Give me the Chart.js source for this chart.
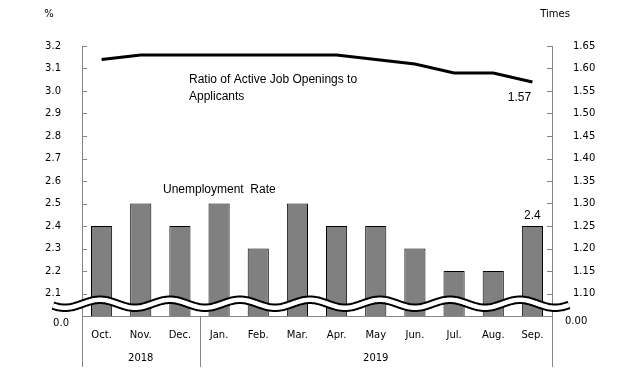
<!DOCTYPE html>
<html>
<head>
<meta charset="utf-8">
<script src="https://cdn.jsdelivr.net/npm/chart.js@4"></script>
<style>
html,body{margin:0;padding:0;background:#fff;}
canvas{display:block;}
</style>
</head>
<body>
<canvas id="c" width="629" height="377"></canvas>
<script>
const categories = ['Oct.','Nov.','Dec.','Jan.','Feb.','Mar.','Apr.','May','Jun.','Jul.','Aug.','Sep.'];
const years = [{label:'2018', from:0, to:2}, {label:'2019', from:3, to:11}];
const unemploymentRate = [2.4, 2.5, 2.4, 2.5, 2.3, 2.5, 2.4, 2.4, 2.3, 2.2, 2.2, 2.4];
const jobRatio = [1.62, 1.63, 1.63, 1.63, 1.63, 1.63, 1.63, 1.62, 1.61, 1.59, 1.59, 1.57];

const AXIS = '#868686';
const TICK_FONT = '10px "DejaVu Sans"';
const NOTE_FONT = '12px "Liberation Sans"';

const decor = {
  id: 'decor',
  afterDatasetsDraw(chart) {
    const ctx = chart.ctx;
    const ca = chart.chartArea;
    const yL = chart.scales.y, yR = chart.scales.y1, x = chart.scales.x;
    ctx.save();
    // inward tick marks
    ctx.strokeStyle = AXIS; ctx.lineWidth = 1;
    yL.ticks.forEach(t => {
      if (t.value < 2.05) return;
      const py = Math.round(yL.getPixelForValue(t.value)) + 0.5;
      ctx.beginPath(); ctx.moveTo(ca.left, py); ctx.lineTo(ca.left + 5, py); ctx.stroke();
    });
    yR.ticks.forEach(t => {
      if (t.value < 1.07) return;
      const py = Math.round(yR.getPixelForValue(t.value)) + 0.5;
      ctx.beginPath(); ctx.moveTo(ca.right, py); ctx.lineTo(ca.right - 5, py); ctx.stroke();
    });
    // vertical separators below x axis
    const step = (ca.right - ca.left) / categories.length;
    const seps = [ca.left, ca.left + step * 3, ca.right];
    seps.forEach(sx => {
      const px = Math.round(sx) + 0.5;
      ctx.beginPath(); ctx.moveTo(px, ca.bottom); ctx.lineTo(px, ca.bottom + 51); ctx.stroke();
    });
    // wave break
    const cy = (yL.getPixelForValue(2.1) + yL.getPixelForValue(2.0)) / 2 - 1;
    const wave = () => {
      ctx.beginPath();
      for (let px = 53; px <= 569; px += 1) {
        const py = cy - 4 * Math.cos(2 * Math.PI * (px - 100) / 70);
        if (px === 53) ctx.moveTo(px, py); else ctx.lineTo(px, py);
      }
    };
    ctx.lineCap = 'butt';
    wave(); ctx.strokeStyle = '#000'; ctx.lineWidth = 8.5; ctx.stroke();
    wave(); ctx.strokeStyle = '#fff'; ctx.lineWidth = 4.5; ctx.stroke();
    // texts
    ctx.fillStyle = '#000';
    ctx.font = TICK_FONT;
    ctx.textBaseline = 'middle';
    ctx.textAlign = 'right'; ctx.fillText('0.0', ca.left - 13, ca.bottom + 7);
    ctx.textAlign = 'left'; ctx.fillText('0.00', ca.right + 13, ca.bottom + 5);
    ctx.textAlign = 'center';
    ctx.fillText('%', 49, 14);
    ctx.fillText('Times', 555, 14);
    years.forEach(yv => {
      const cx = (x.getPixelForValue(yv.from) + x.getPixelForValue(yv.to)) / 2;
      ctx.fillText(yv.label, cx, ca.bottom + 42);
    });
    ctx.font = NOTE_FONT;
    ctx.textAlign = 'left';
    ctx.fillText('Ratio of Active Job Openings to', 189, 80);
    ctx.fillText('Applicants', 189, 97);
    ctx.fillText('Unemployment  Rate', 163, 190);
    ctx.textAlign = 'center';
    const last = categories.length - 1;
    ctx.fillText(String(unemploymentRate[last]), x.getPixelForValue(last), yL.getPixelForValue(unemploymentRate[last]) - 10);
    ctx.fillText(jobRatio[last].toFixed(2), x.getPixelForValue(last) - 13, yR.getPixelForValue(jobRatio[last]) + 16);
    ctx.restore();
  }
};

new Chart(document.getElementById('c'), {
  data: {
    labels: categories,
    datasets: [
      {
        type: 'line', label: 'Ratio of Active Job Openings to Applicants', data: jobRatio, yAxisID: 'y1',
        borderColor: '#000', borderWidth: 3, pointRadius: 0, tension: 0, fill: false, order: 0
      },
      {
        type: 'bar', label: 'Unemployment Rate', data: unemploymentRate, yAxisID: 'y',
        backgroundColor: '#808080', borderColor: '#000', borderWidth: 1, borderSkipped: false,
        barPercentage: 0.54, categoryPercentage: 1.0, order: 1
      }
    ]
  },
  options: {
    responsive: false,
    devicePixelRatio: 1,
    animation: false,
    layout: { padding: { top: 46, left: 0, right: 0, bottom: 0 } },
    plugins: { legend: { display: false }, tooltip: { enabled: false } },
    scales: {
      x: {
        grid: { display: false },
        border: { display: true, color: AXIS, width: 1 },
        ticks: { color: '#000', font: { family: 'DejaVu Sans', size: 10 }, padding: 5, maxRotation: 0, autoSkip: false },
        afterFit(s) { s.height = 61; }
      },
      y: {
        position: 'left', min: 2.0, max: 3.2,
        grid: { display: false },
        border: { display: true, color: AXIS, width: 1 },
        ticks: {
          stepSize: 0.1, maxTicksLimit: 30, color: '#000', padding: 13,
          font: { family: 'DejaVu Sans', size: 10 },
          callback: v => (v < 2.05 ? '' : Number(v).toFixed(1))
        },
        afterFit(s) { s.width = 82; }
      },
      y1: {
        position: 'right', min: 1.05, max: 1.65,
        grid: { display: false },
        border: { display: true, color: AXIS, width: 1 },
        ticks: {
          stepSize: 0.05, maxTicksLimit: 30, color: '#000', padding: 13,
          font: { family: 'DejaVu Sans', size: 10 },
          callback: v => (v < 1.07 ? '' : Number(v).toFixed(2))
        },
        afterFit(s) { s.width = 77; }
      }
    }
  },
  plugins: [decor]
});
</script>
</body>
</html>
